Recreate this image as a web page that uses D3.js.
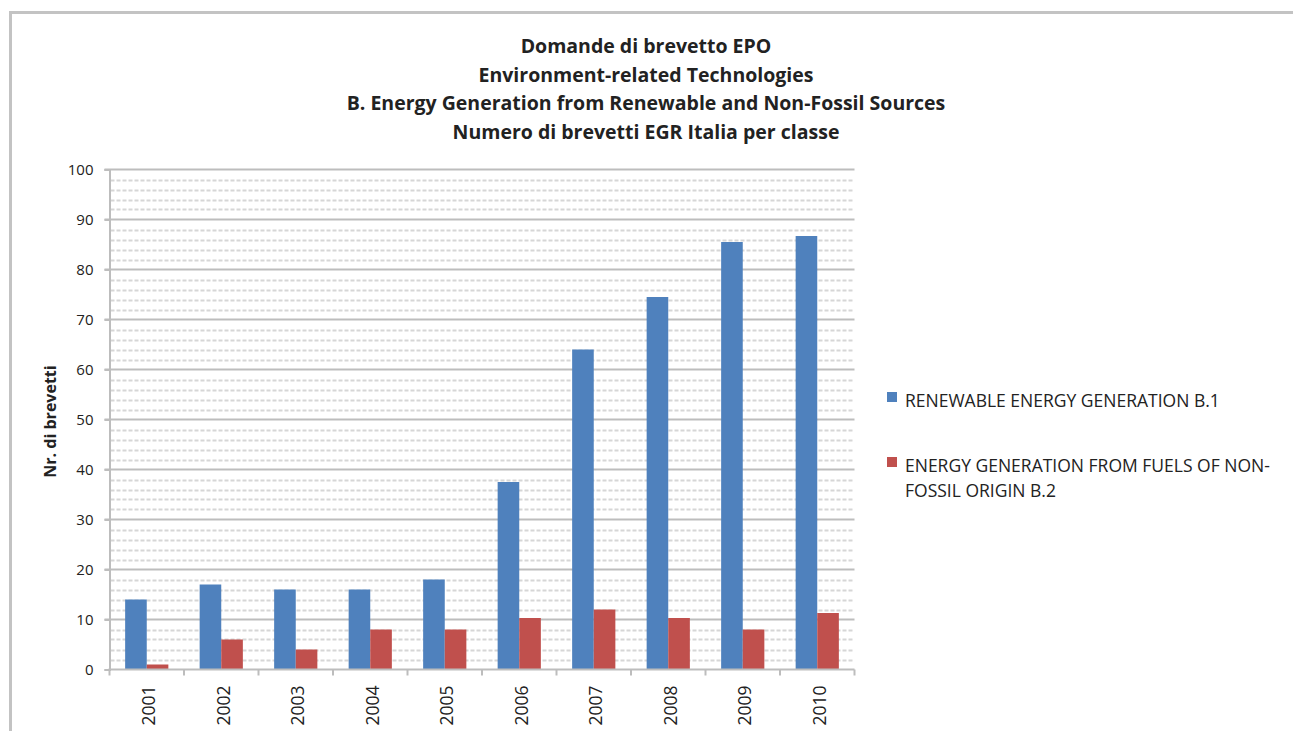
<!DOCTYPE html>
<html>
<head>
<meta charset="utf-8">
<script src="https://cdn.jsdelivr.net/npm/d3@7"></script>
<style>
  html, body { margin: 0; padding: 0; background: #fff; }
  svg { display: block; }
  text { font-family: "Open Sans", Lato, sans-serif; fill: #222; }
</style>
</head>
<body>
<svg id="chart" width="1293" height="731"></svg>
<script>
const years = ["2001","2002","2003","2004","2005","2006","2007","2008","2009","2010"];
const seriesNames = ["RENEWABLE ENERGY GENERATION B.1", "ENERGY GENERATION FROM FUELS OF NON-FOSSIL ORIGIN B.2"];
const renewable = [14, 17, 16, 16, 18, 37.5, 64, 74.5, 85.5, 86.7];
const nonFossil = [1, 6, 4, 8, 8, 10.3, 12, 10.3, 8, 11.3];
const yTicks = [0, 10, 20, 30, 40, 50, 60, 70, 80, 90, 100];
const minorTicks = d3.range(0, 100, 2).filter(v => v % 10 !== 0);
const titleLines = ["Domande di brevetto EPO", "Environment-related Technologies", "B. Energy Generation from Renewable and Non-Fossil Sources", "Numero di brevetti EGR Italia per classe"];
const yTitle = "Nr. di brevetti";
const colors = ["#4f81bd", "#c0504d"];

(function () {
const svg = d3.select("#chart");

// outer frame
svg.append("path")
  .attr("d", "M10.5,731 L10.5,12.5 L1293,12.5")
  .attr("fill", "none").attr("stroke", "#c3c3c3").attr("stroke-width", 3);

const pLeft = 109.5, pRight = 854.5, pTop = 169.5, pBottom = 669.5;

const y = d3.scaleLinear().domain([0, 100]).range([pBottom, pTop]);
const x0 = d3.scaleBand().domain(years).range([pLeft, pRight]).paddingInner(0.42).paddingOuter(0.21);
const x1 = d3.scaleBand().domain([0, 1]).range([0, x0.bandwidth()]);

// minor gridlines
svg.append("g").selectAll("line").data(minorTicks).join("line")
  .attr("x1", pLeft + 1).attr("x2", pRight)
  .attr("y1", d => Math.round(y(d)) + 0.5).attr("y2", d => Math.round(y(d)) + 0.5)
  .attr("stroke", "#d6d6d6").attr("stroke-width", 2).attr("stroke-dasharray", "4,2");

// major gridlines
svg.append("g").selectAll("line").data(yTicks.filter(d => d > 0)).join("line")
  .attr("x1", pLeft - 5).attr("x2", pRight)
  .attr("y1", d => y(d)).attr("y2", d => y(d))
  .attr("stroke", "#bdbdbd").attr("stroke-width", 2);

// bars
const data = years.map((yr, i) => ({ yr, vals: [renewable[i], nonFossil[i]] }));
const groups = svg.append("g").selectAll("g").data(data).join("g")
  .attr("transform", d => `translate(${x0(d.yr)},0)`);
groups.selectAll("rect").data(d => d.vals.map((v, k) => ({ v, k }))).join("rect")
  .attr("x", d => x1(d.k))
  .attr("width", x1.bandwidth())
  .attr("y", d => y(d.v))
  .attr("height", d => y(0) - y(d.v))
  .attr("fill", d => colors[d.k]);

// y axis
const yAxis = svg.append("g").attr("transform", `translate(${pLeft},0)`)
  .call(d3.axisLeft(y).tickValues(yTicks).tickSize(5).tickPadding(11));
yAxis.select(".domain").attr("stroke", "#bdbdbd").attr("stroke-width", 2);
yAxis.selectAll(".tick line").attr("stroke", "#bdbdbd").attr("stroke-width", 2);
yAxis.selectAll(".tick text").attr("font-size", 15).attr("fill", "#333")
  .style("font-family", "'Open Sans', Lato, sans-serif");

// x axis
const xTickScale = d3.scaleLinear().domain([0, years.length]).range([pLeft, pRight]);
svg.append("line").attr("x1", pLeft - 1).attr("x2", pRight).attr("y1", pBottom).attr("y2", pBottom)
  .attr("stroke", "#bdbdbd").attr("stroke-width", 2);
svg.append("g").selectAll("line").data(d3.range(0, years.length + 1)).join("line")
  .attr("x1", d => xTickScale(d)).attr("x2", d => xTickScale(d))
  .attr("y1", pBottom).attr("y2", pBottom + 6)
  .attr("stroke", "#bdbdbd").attr("stroke-width", 2);
svg.append("g").selectAll("text").data(years).join("text")
  .attr("transform", d => `translate(${x0(d) + x0.bandwidth() / 2 + 8.5},${pBottom + 16}) rotate(-90)`)
  .attr("text-anchor", "end")
  .attr("font-size", 17.5).attr("fill", "#333")
  .text(d => d);

// y title
svg.append("text")
  .attr("transform", `translate(56,${(pTop + pBottom) / 2 + 2}) rotate(-90)`)
  .attr("text-anchor", "middle").attr("font-size", 16).attr("font-weight", "bold")
  .text(yTitle);

// title
svg.append("g").selectAll("text").data(titleLines).join("text")
  .attr("x", 646).attr("y", (d, i) => 53 + i * 28.7)
  .attr("text-anchor", "middle").attr("font-size", 19.5).attr("font-weight", "bold")
  .text(d => d);

// legend
const legendItems = [
  { name: seriesNames[0], lines: ["RENEWABLE ENERGY GENERATION B.1"], yPos: 397 },
  { name: seriesNames[1], lines: ["ENERGY GENERATION FROM FUELS OF NON-", "FOSSIL ORIGIN B.2"], yPos: 462 }
];
const lg = svg.append("g").selectAll("g").data(legendItems).join("g");
lg.append("rect").attr("x", 887).attr("y", d => d.yPos - 5).attr("width", 10).attr("height", 10)
  .attr("fill", (d, i) => colors[i]);
lg.each(function(d) {
  d3.select(this).selectAll("text").data(d.lines).join("text")
    .attr("x", 905).attr("y", (t, j) => d.yPos + 10 + j * 24.5)
    .attr("font-size", 17.5).attr("fill", "#333")
    .text(t => t);
});
})();
</script>
</body>
</html>
